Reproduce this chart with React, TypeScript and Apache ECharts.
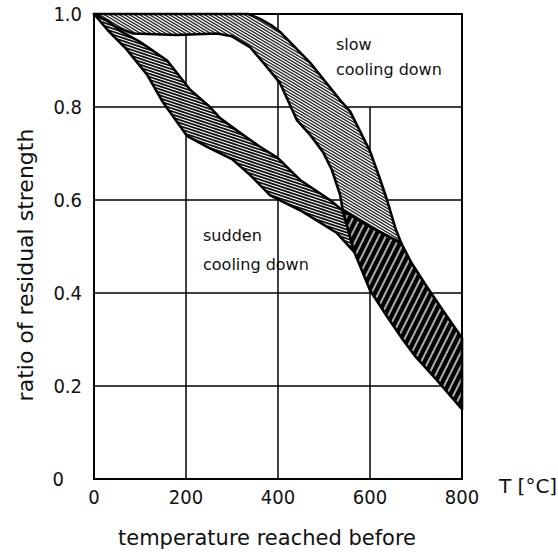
import { useEffect, useRef } from "react";
import * as echarts from "echarts";

// Axis ticks
const xTicks = [0, 200, 400, 600, 800];
const yTicks = [0, 0.2, 0.4, 0.6, 0.8, 1.0];

// Vertical grid segments [T, ratio]
const vGridLines: [number, number][][] = [
  [[200, 0], [200, 1.0]],
  [[400, 0], [400, 1.0]],
  [[600, 0], [600, 0.8]],
];

// Slow cooling band: upper edge (T, ratio)
const slowUpper: [number, number][] = [
  [0, 1.0], [335, 1.0], [360, 0.99], [385, 0.976], [404, 0.962], [470, 0.895], [535, 0.815],
  [557, 0.79], [600, 0.705], [620, 0.65], [637, 0.6], [655, 0.54], [668, 0.507],
];
// Slow cooling band: lower edge
const slowLower: [number, number][] = [
  [0, 1.0], [40, 0.975], [85, 0.958], [180, 0.955], [267, 0.958], [300, 0.952],
  [339, 0.929], [370, 0.893], [404, 0.852], [441, 0.772], [470, 0.74], [498, 0.703],
  [517, 0.665], [535, 0.611], [541, 0.577], [553, 0.535], [566, 0.488],
];
// Sudden cooling band: upper edge
const suddenUpper: [number, number][] = [
  [0, 1.0], [30, 0.985], [60, 0.962], [100, 0.94], [159, 0.9], [209, 0.837],
  [252, 0.8], [274, 0.776], [317, 0.745], [360, 0.715], [400, 0.69], [448, 0.643],
  [513, 0.6], [541, 0.577],
];
// Sudden cooling band: lower edge
const suddenLower: [number, number][] = [
  [0, 1.0], [30, 0.965], [70, 0.925], [115, 0.87], [150, 0.81], [202, 0.738],
  [250, 0.712], [300, 0.688], [339, 0.654], [383, 0.61], [448, 0.578], [528, 0.529],
  [566, 0.488], [600, 0.406], [640, 0.345], [672, 0.299], [700, 0.262], [745, 0.213],
  [800, 0.15],
];
// Overlap (dark) region: upper edge
const darkUpper: [number, number][] = [
  [541, 0.577], [600, 0.542], [668, 0.507], [690, 0.465], [724, 0.413], [760, 0.36],
  [800, 0.303],
];

const FONT = '"DejaVu Sans", sans-serif';
const FONT_C = '"DejaVu Sans Condensed", "Liberation Sans Narrow", "DejaVu Sans", sans-serif';

function makeHatch(w: number, h: number, step: number, rising: boolean, bg: string, fg: string, lw: number) {
  const c = document.createElement("canvas");
  c.width = w;
  c.height = h;
  const ctx = c.getContext("2d")!;
  ctx.fillStyle = bg;
  ctx.fillRect(0, 0, w, h);
  ctx.strokeStyle = fg;
  ctx.lineWidth = lw;
  for (let k = -3 * h; k <= 3 * h; k += step) {
    ctx.beginPath();
    if (!rising) {
      ctx.moveTo(-w, k - h);
      ctx.lineTo(2 * w, k + 2 * h);
    } else {
      ctx.moveTo(-w, k + h);
      ctx.lineTo(2 * w, k - 2 * h);
    }
    ctx.stroke();
  }
  return { image: c, repeat: "repeat", imageWidth: w, imageHeight: h } as any;
}

export default function App() {
  const ref = useRef<HTMLDivElement>(null);
  useEffect(() => {
    if (!ref.current) return;
    const chart = echarts.init(ref.current, undefined, { renderer: "svg" });

    const slowPoly = [
      ...slowUpper,
      ...darkUpper.filter((p) => p[0] < 668).reverse(),
      ...slowLower.filter((p) => p[0] < 541).reverse(),
    ];
    const suddenPoly = [
      ...suddenUpper,
      ...slowLower.filter((p) => p[0] > 541),
      ...suddenLower.filter((p) => p[0] < 566).reverse(),
    ];
    const darkPoly = [
      ...darkUpper,
      ...suddenLower.filter((p) => p[0] >= 566).reverse(),
      ...slowLower.filter((p) => p[0] > 541 && p[0] < 566).reverse(),
    ];

    const slowFill = makeHatch(10, 6, 3, false, "#ffffff", "#2a2a2a", 1.4);
    const suddenFill = makeHatch(18, 6, 3, false, "#ffffff", "#111111", 1.7);
    const darkFill = makeHatch(7, 14, 14, true, "#000000", "#aaaaaa", 2);

    const band = (name: string, poly: [number, number][], fill: any) => ({
      type: "custom",
      name,
      z: 3,
      silent: true,
      data: poly,
      encode: { x: 0, y: 1 },
      renderItem: (params: any, api: any) => {
        if (params.dataIndex !== 0) return null;
        const pts = poly.map((p) => api.coord(p));
        return {
          type: "polygon",
          shape: { points: pts, smooth: 0 },
          style: { fill, stroke: "#000", lineWidth: 2.6, lineJoin: "round" },
        };
      },
    });

    chart.setOption({
      animation: false,
      backgroundColor: "#ffffff",
      grid: {
        left: 94,
        right: 96,
        top: 14,
        bottom: 73,
        show: true,
        borderColor: "#000",
        borderWidth: 2,
      },
      xAxis: {
        type: "value",
        min: xTicks[0],
        max: xTicks[xTicks.length - 1],
        interval: 200,
        axisLine: { show: false },
        axisTick: { show: false },
        splitLine: { show: false },
        axisLabel: {
          color: "#111",
          fontFamily: FONT_C,
          fontSize: 20,
          margin: 8,
        },
      },
      yAxis: {
        type: "value",
        min: yTicks[0],
        max: yTicks[yTicks.length - 1],
        interval: 0.2,
        axisLine: { show: false },
        axisTick: { show: false },
        splitLine: { show: true, lineStyle: { color: "#000", width: 1.5 } },
        axisLabel: {
          color: "#111",
          fontFamily: FONT_C,
          fontSize: 20,
          margin: 12,
          formatter: (v: number) => (v === 0 ? "{z|0}" : v.toFixed(1)),
          rich: {
            z: { padding: [0, 18, 0, 0], fontFamily: FONT_C, fontSize: 20, color: "#111" },
          },
        },
      },
      graphic: [
        {
          type: "text",
          left: 336,
          top: 36,
          style: { text: "slow", font: `16px ${FONT}`, fill: "#111" },
        },
        {
          type: "text",
          left: 336,
          top: 61,
          style: { text: "cooling down", font: `16px ${FONT}`, fill: "#111" },
        },
        {
          type: "text",
          left: 203,
          top: 227,
          style: { text: "sudden", font: `16px ${FONT}`, fill: "#111" },
        },
        {
          type: "text",
          left: 203,
          top: 256,
          style: { text: "cooling down", font: `16px ${FONT}`, fill: "#111" },
        },
        {
          type: "text",
          x: 499,
          y: 486,
          style: { text: "T [°C]", font: `20px ${FONT}`, fill: "#111", verticalAlign: "middle", align: "left" },
        },
        {
          type: "text",
          x: 267,
          y: 538,
          style: {
            text: "temperature reached before",
            font: `21px ${FONT}`,
            fill: "#111",
            align: "center",
            verticalAlign: "middle",
          },
        },
        {
          type: "text",
          x: 25,
          y: 265,
          rotation: Math.PI / 2,
          style: {
            text: "ratio of residual strength",
            font: `22px ${FONT}`,
            fill: "#111",
            align: "center",
            verticalAlign: "middle",
          },
        },
      ],
      series: [
        ...vGridLines.map((seg) => ({
          type: "line",
          data: seg,
          symbol: "none",
          z: 1,
          silent: true,
          lineStyle: { color: "#000", width: 1.5 },
        })),
        band("slow cooling down", slowPoly, slowFill),
        band("sudden cooling down", suddenPoly, suddenFill),
        band("overlap", darkPoly, darkFill),
      ],
    });
    return () => chart.dispose();
  }, []);
  return (
    <div
      ref={ref}
      style={{ position: "fixed", left: 0, top: 0, width: 558, height: 552, background: "#fff" }}
    />
  );
}
